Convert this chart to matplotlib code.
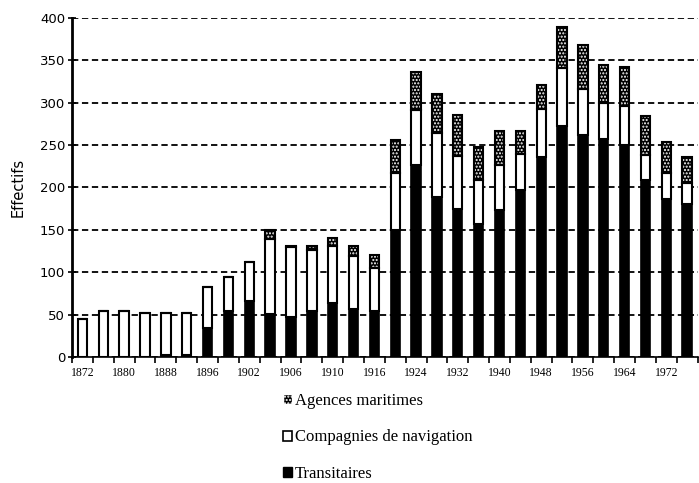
import matplotlib.pyplot as plt
import matplotlib.patches as mpatches
import numpy as np

# one bar every ~4 years, only every second one is labelled
tick_labels = ["1872", "", "1880", "", "1888", "", "1896", "", "1902", "",
               "1906", "", "1910", "", "1916", "", "1924", "", "1932", "",
               "1940", "", "1948", "", "1956", "", "1964", "", "1972", ""]

transitaires = [0, 0, 0, 0, 2, 2, 34, 54, 66, 51, 47, 54, 64, 56, 54,
                150, 226, 189, 175, 157, 173, 197, 236, 272, 262, 257, 250, 209, 186, 181]
compagnies = [45, 54, 54, 52, 50, 50, 49, 40, 46, 88, 83, 72, 67, 63, 51,
              67, 65, 75, 62, 52, 54, 42, 56, 69, 54, 43, 46, 29, 31, 24]
agences = [0, 0, 0, 0, 0, 0, 0, 0, 0, 11, 1, 5, 9, 12, 15,
           39, 45, 46, 48, 39, 40, 28, 29, 48, 52, 44, 46, 46, 37, 31]

plt.rcParams['hatch.linewidth'] = 1.0

fig = plt.figure(figsize=(6.99, 4.83), dpi=100)
ax = fig.add_axes([0.103, 0.261, 0.895, 0.702])

x = np.arange(len(tick_labels))
t = np.array(transitaires)
c = np.array(compagnies)
a = np.array(agences)
w = 0.45

ax.bar(x, t, w, color='black', edgecolor='black', linewidth=1.2, zorder=3)
ax.bar(x, c, w, bottom=t, color='white', edgecolor='black', linewidth=1.5, zorder=3)
ax.bar(x, a, w, bottom=t + c, color='black', edgecolor='white', linewidth=0,
       hatch='.....', zorder=3)
ax.bar(x, a, w, bottom=t + c, fill=False, edgecolor='black', linewidth=1.5, zorder=4)

ax.set_xlim(-0.5, len(x) - 0.5)
ax.set_ylim(0, 400)
ax.set_yticks(range(0, 401, 50))
ax.yaxis.grid(True, color='black', linestyle=(0, (3.5, 2)), linewidth=1.3, zorder=0)
ax.tick_params(axis='y', direction='inout', length=6, width=1.2, labelsize=9.5, pad=2)

ax.set_xticks(x)
ax.set_xticklabels(tick_labels, family='Liberation Serif', fontsize=8.5)
ax.set_xticks(np.arange(-0.5, len(x), 1), minor=True)
ax.tick_params(axis='x', which='major', length=0, pad=7)
ax.tick_params(axis='x', which='minor', direction='out', length=4, width=1.2)

for s in ['top', 'right']:
    ax.spines[s].set_visible(False)
ax.spines['left'].set_linewidth(2)
ax.spines['bottom'].set_linewidth(1.2)

ax.set_ylabel('Effectifs', fontsize=10.5, labelpad=10)

handles = [
    mpatches.Patch(facecolor='black', edgecolor='white', hatch='.....', label='Agences maritimes'),
    mpatches.Patch(facecolor='white', edgecolor='black', linewidth=1.2, label='Compagnies de navigation'),
    mpatches.Patch(facecolor='black', edgecolor='black', label='Transitaires'),
]
fig.legend(handles=handles, loc='upper left', bbox_to_anchor=(0.405, 0.186),
           frameon=False, handlelength=0.55, handleheight=0.55, handletextpad=0.15,
           labelspacing=1.22, borderpad=0, borderaxespad=0,
           prop={'family': 'Liberation Serif', 'size': 12})

fig.savefig('out.png', dpi=100)
